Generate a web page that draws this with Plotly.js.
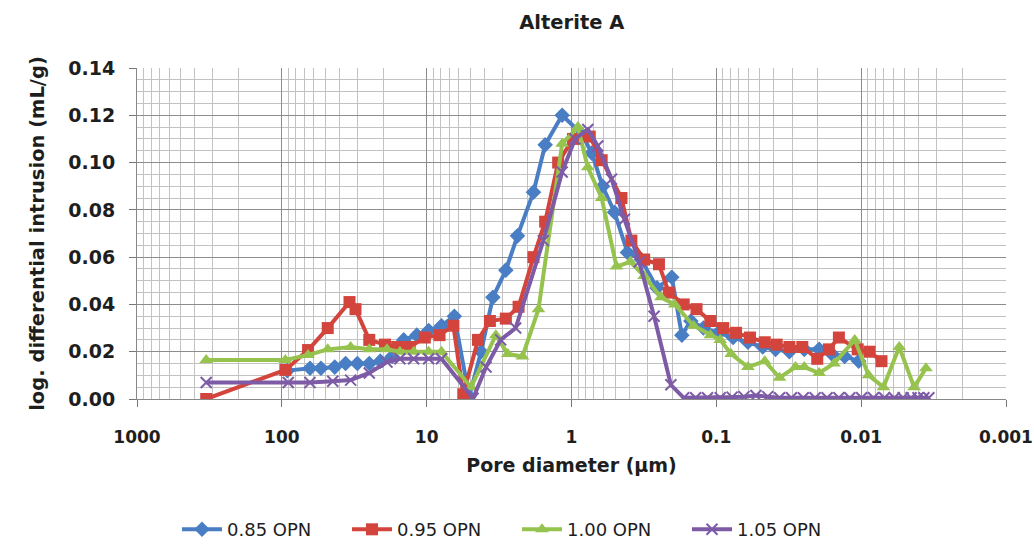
<!DOCTYPE html>
<html>
<head>
<meta charset="utf-8">
<script src="https://cdn.plot.ly/plotly-3.0.1.min.js"></script>
<style>html,body{margin:0;padding:0;background:#fff;}#chart{width:1034px;height:546px;}</style>
</head>
<body>
<div id="chart"></div>
<script>
// Pore diameter (µm) and log differential intrusion (mL/g)
const d085 = [91.7, 63.9, 53.7, 43.1, 36.3, 30.1, 24.9, 20.9, 17.3, 14.4, 11.7, 9.69, 7.90, 6.44, 5.09, 4.21, 3.49, 2.84, 2.36, 1.83, 1.52, 1.16, 0.847, 0.724, 0.610, 0.505, 0.411, 0.330, 0.257, 0.203, 0.173, 0.150, 0.1227, 0.0969, 0.0766, 0.0605, 0.0478, 0.0390, 0.0313, 0.0247, 0.0195, 0.0159, 0.0130, 0.0104];
const v085 = [0.012, 0.013, 0.013, 0.0135, 0.015, 0.015, 0.015, 0.016, 0.018, 0.025, 0.027, 0.029, 0.031, 0.035, 0.001, 0.020, 0.043, 0.0545, 0.069, 0.0875, 0.1075, 0.120, 0.112, 0.104, 0.090, 0.079, 0.062, 0.059, 0.047, 0.0515, 0.027, 0.033, 0.030, 0.028, 0.026, 0.024, 0.022, 0.021, 0.020, 0.021, 0.021, 0.019, 0.018, 0.016];

const d095 = [332.8, 94.6, 65.9, 48.2, 34.1, 31.0, 24.9, 19.4, 16.0, 13.1, 10.3, 8.15, 6.54, 5.59, 4.42, 3.66, 2.84, 2.32, 1.83, 1.52, 1.236, 0.977, 0.748, 0.619, 0.452, 0.386, 0.315, 0.249, 0.213, 0.168, 0.137, 0.110, 0.0896, 0.0731, 0.0586, 0.0463, 0.0383, 0.0313, 0.0255, 0.0201, 0.0167, 0.01425, 0.01057, 0.00875, 0.00724];
const v095 = [0.000, 0.0123, 0.0207, 0.030, 0.041, 0.038, 0.025, 0.023, 0.022, 0.022, 0.026, 0.027, 0.031, 0.002, 0.025, 0.033, 0.034, 0.039, 0.060, 0.075, 0.100, 0.110, 0.111, 0.101, 0.085, 0.067, 0.059, 0.057, 0.045, 0.040, 0.038, 0.033, 0.030, 0.028, 0.026, 0.024, 0.023, 0.022, 0.022, 0.017, 0.021, 0.026, 0.021, 0.020, 0.016];

const d100 = [332.8, 94.6, 65.9, 48.2, 33.5, 24.9, 18.8, 15.3, 12.3, 9.69, 7.90, 4.93, 3.33, 2.75, 2.18, 1.69, 1.16, 0.903, 0.772, 0.619, 0.489, 0.393, 0.315, 0.241, 0.1936, 0.1435, 0.110, 0.094, 0.079, 0.0605, 0.0463, 0.0366, 0.0284, 0.0247, 0.0195, 0.0154, 0.01108, 0.00889, 0.00702, 0.00546, 0.00431, 0.00357];
const v100 = [0.0165, 0.0165, 0.0186, 0.021, 0.022, 0.021, 0.021, 0.020, 0.020, 0.020, 0.020, 0.005, 0.027, 0.019, 0.018, 0.038, 0.108, 0.115, 0.098, 0.085, 0.056, 0.058, 0.052, 0.043, 0.040, 0.031, 0.027, 0.025, 0.019, 0.0135, 0.016, 0.009, 0.0135, 0.0135, 0.011, 0.015, 0.025, 0.010, 0.005, 0.022, 0.005, 0.013];

const d105 = [332.8, 90.3, 63.9, 44.5, 33.5, 24.9, 18.8, 15.3, 12.3, 9.69, 7.90, 4.78, 3.89, 3.08, 2.43, 1.565, 1.16, 0.946, 0.772, 0.659, 0.529, 0.431, 0.3406, 0.269, 0.206, 0.168, 0.139, 0.1151, 0.094, 0.0778, 0.0644, 0.0533, 0.0442, 0.0366, 0.0303, 0.0251, 0.0208, 0.0172, 0.01425, 0.01198, 0.00992, 0.00822, 0.00691, 0.00591, 0.00513, 0.00452, 0.00405, 0.00369, 0.00341];
const v105 = [0.007, 0.007, 0.007, 0.0075, 0.008, 0.011, 0.0156, 0.017, 0.017, 0.017, 0.017, 0.0003, 0.0135, 0.025, 0.030, 0.067, 0.096, 0.110, 0.114, 0.107, 0.093, 0.076, 0.058, 0.035, 0.006, 0.0005, 0.0005, 0.0005, 0.0005, 0.0008, 0.001, 0.0015, 0.001, 0.0005, 0.0005, 0.0005, 0.0005, 0.0005, 0.0005, 0.0005, 0.0005, 0.0005, 0.0005, 0.0005, 0.0005, 0.0005, 0.0005, 0.0005, 0.0005];

const seriesNames = ['0.85 OPN', '0.95 OPN', '1.00 OPN', '1.05 OPN'];
const xTickVals = [1000, 100, 10, 1, 0.1, 0.01, 0.001];
const xTickText = ['1000', '100', '10', '1', '0.1', '0.01', '0.001'];
const yTickVals = [0, 0.02, 0.04, 0.06, 0.08, 0.10, 0.12, 0.14];
const yTickText = ['0.00', '0.02', '0.04', '0.06', '0.08', '0.10', '0.12', '0.14'];

const colors = ['#4A7EC4', '#D2443C', '#96C24E', '#7D5BA6'];
const FONT = '"DejaVu Sans", "Open Sans", sans-serif';
const TXT = '#1e1e1e';

const traces = [
  {x: d085, y: v085, name: seriesNames[0], type: 'scatter', mode: 'lines+markers',
   line: {color: colors[0], width: 4}, marker: {symbol: 'diamond', size: 12, color: colors[0]}},
  {x: d095, y: v095, name: seriesNames[1], type: 'scatter', mode: 'lines+markers',
   line: {color: colors[1], width: 4}, marker: {symbol: 'square', size: 12, color: colors[1]}},
  {x: d100, y: v100, name: seriesNames[2], type: 'scatter', mode: 'lines+markers',
   line: {color: colors[2], width: 4}, marker: {symbol: 'triangle-up', size: 12, color: colors[2]}},
  {x: d105, y: v105, name: seriesNames[3], type: 'scatter', mode: 'lines+markers',
   line: {color: colors[3], width: 4}, marker: {symbol: 'x-thin-open', size: 11, color: colors[3], line: {color: colors[3], width: 2}}}
];

const layout = {
  width: 1034, height: 546,
  margin: {l: 137, r: 28, t: 68, b: 147},
  paper_bgcolor: '#fff', plot_bgcolor: '#fff',
  font: {family: FONT, color: TXT},
  title: {text: '<b>Alterite A</b>', font: {family: FONT, size: 19.5, color: TXT}, x: 0.553, xref: 'container', xanchor: 'center', y: 0.96, yref: 'container', yanchor: 'middle'},
  xaxis: {
    type: 'log', range: [3, -3],
    tickvals: xTickVals, ticktext: xTickText,
    tickfont: {family: FONT, size: 17, color: TXT, weight: 'bold'},
    ticks: 'outside', ticklen: 7, tickcolor: '#777',
    ticklabelstandoff: 16, ticklabeloverflow: 'allow',
    showgrid: true, gridcolor: '#8c8c8c', gridwidth: 1,
    minor: {dtick: 'D1', showgrid: true, gridcolor: '#c2c2c2', gridwidth: 1, ticks: ''},
    showline: true, linecolor: '#888', linewidth: 1, mirror: false,
    zeroline: false,
    title: {text: '<b>Pore diameter (µm)</b>', font: {family: FONT, size: 19, color: TXT}, standoff: 12}
  },
  yaxis: {
    range: [0, 0.14],
    tickvals: yTickVals, ticktext: yTickText,
    tickfont: {family: FONT, size: 19, color: TXT, weight: 'bold'},
    ticks: 'outside', ticklen: 7, tickcolor: '#777',
    ticklabelstandoff: 10,
    showgrid: true, gridcolor: '#8c8c8c', gridwidth: 1,
    minor: {dtick: 0.005, showgrid: true, gridcolor: '#c2c2c2', gridwidth: 1, ticks: ''},
    showline: true, linecolor: '#888', linewidth: 1,
    zeroline: false,
    title: {text: '<b>log. differential intrusion (mL/g)</b>', font: {family: FONT, size: 19.5, color: TXT}, standoff: 18}
  },
  showlegend: true,
  legend: {orientation: 'h', x: 0.5, xref: 'container', xanchor: 'center', y: 0.03, yref: 'container', yanchor: 'middle',
           font: {family: FONT, size: 18, color: TXT}, itemwidth: 40, entrywidth: 115, entrywidthmode: 'pixels', traceorder: 'normal'}
};

Plotly.newPlot('chart', traces, layout, {displayModeBar: false, staticPlot: true});
</script>
</body>
</html>
